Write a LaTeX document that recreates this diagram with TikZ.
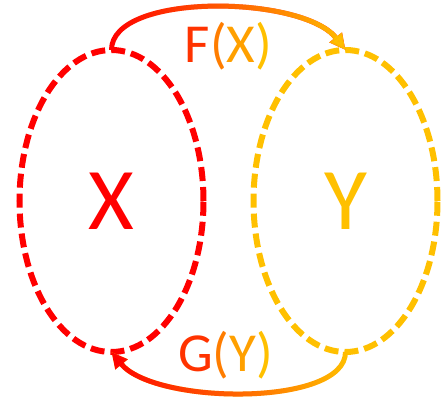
\documentclass[tikz,border=0pt]{standalone}
\usepackage{fontspec}
\setmainfont{Carlito}
\usepackage{tikz}
\usetikzlibrary{
    shapes.geometric,
    arrows.meta,
    positioning,
    calc,
    fadings
}
\definecolor{Cred}{RGB}{255, 0, 0}
\definecolor{Camber}{RGB}{255, 192, 0}
\definecolor{Cf}{RGB}{255, 51, 0}
\definecolor{Cpl}{RGB}{255, 125, 0}
\definecolor{Cmid}{RGB}{255, 160, 0}
\tikzset{
    cset/.style={
        ellipse, dash pattern=on 14pt off 6pt, line width=6pt,
        minimum width=184pt, minimum height=302pt, outer sep=0pt,
        inner sep=0pt, font=\fontsize{88}{90}\selectfont
    },
    carr/.style={-{Triangle[length=16pt, width=15pt]}, line width=5pt},
    clabel/.style={font=\fontsize{55}{60}\selectfont, inner sep=0pt, anchor=base},
}

\begin{document}
\begin{tikzpicture}

    % ── 两个集合 ──────────────────────────────────────────
    \node [cset, draw=Cred, text=Cred] (X) {X};
    \node [cset, draw=Camber, text=Camber, right=50pt of X] (Y) {Y};

    \useasboundingbox ($(X.center)+(-111.5pt,201pt)$) rectangle ($(X.center)+(330.5pt,-206pt)$);

    % ── 上方箭头 F ────────────────────────────────────────
    \draw [carr, Cred] (X.north) .. controls +(0,58pt) and +(-43pt,55pt) .. (Y.north);
    \draw [carr, Camber, path fading=west] (X.north) .. controls +(0,58pt) and +(-43pt,55pt) .. (Y.north);
    \node [clabel] (fx) at ($(X.north)!0.5!(Y.north)+(0,-13pt)$)
        {\textcolor{Cf}{F}\textcolor{Cpl}{(}\textcolor{Cmid}{X}\textcolor{Camber}{)}};

    % ── 下方箭头 G ────────────────────────────────────────
    \draw [carr, Camber] (Y.south) .. controls +(0,-55pt) and +(43pt,-53pt) .. (X.south);
    \draw [carr, Cred, path fading=east] (Y.south) .. controls +(0,-55pt) and +(43pt,-53pt) .. (X.south);
    \node [clabel] (gy) at ($(X.south)!0.5!(Y.south)+(-3pt,-19pt)$)
        {\textcolor{Cf}{G}\textcolor{Cpl}{(}\textcolor{Cmid}{Y}\textcolor{Camber}{)}};

\end{tikzpicture}
\end{document}
